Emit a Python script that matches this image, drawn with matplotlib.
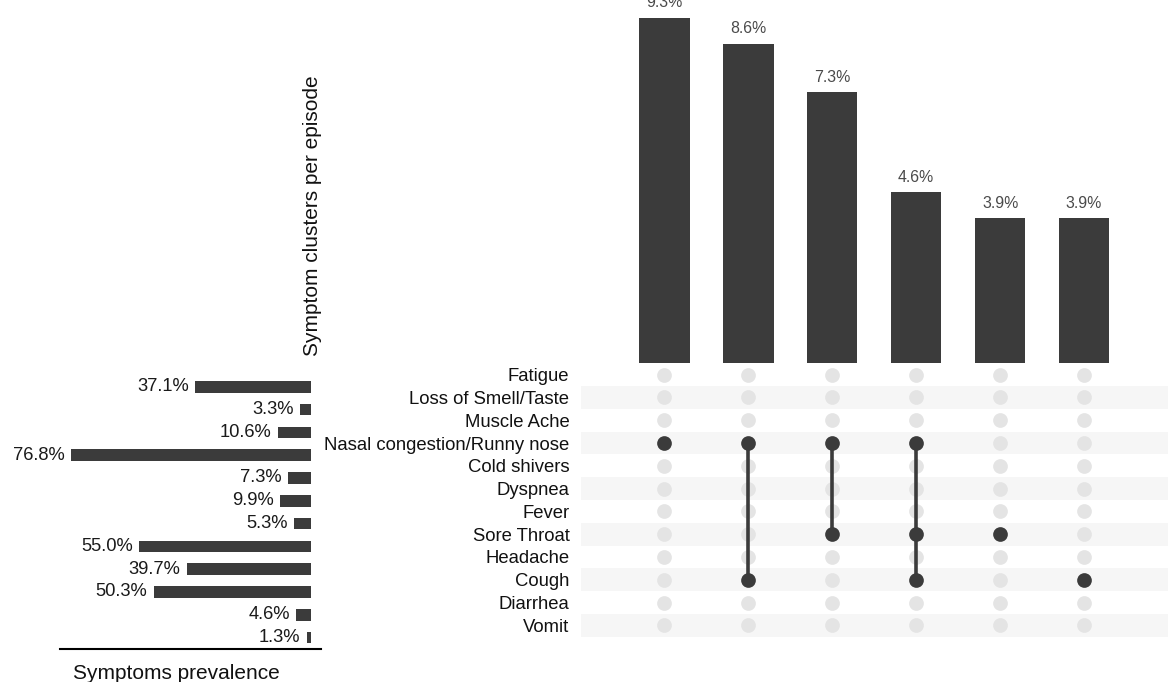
import matplotlib
matplotlib.use("Agg")
import matplotlib.pyplot as plt

plt.rcParams["font.family"] = ["Liberation Sans", "DejaVu Sans"]

BAR_COLOR = "#3b3b3b"
DOT_OFF = "#e4e4e4"
BAND_COLOR = "#f6f6f6"
LABEL_GREY = "#4a4a4a"

# symptoms, top to bottom
symptoms = [
    "Fatigue",
    "Loss of Smell/Taste",
    "Muscle Ache",
    "Nasal congestion/Runny nose",
    "Cold shivers",
    "Dyspnea",
    "Fever",
    "Sore Throat",
    "Headache",
    "Cough",
    "Diarrhea",
    "Vomit",
]
prevalence = [37.1, 3.3, 10.6, 76.8, 7.3, 9.9, 5.3, 55.0, 39.7, 50.3, 4.6, 1.3]

# symptom clusters (intersections), left to right
cluster_share = [9.3, 8.6, 7.3, 4.6, 3.9, 3.9]
cluster_members = [
    ["Nasal congestion/Runny nose"],
    ["Nasal congestion/Runny nose", "Cough"],
    ["Nasal congestion/Runny nose", "Sore Throat"],
    ["Nasal congestion/Runny nose", "Sore Throat", "Cough"],
    ["Sore Throat"],
    ["Cough"],
]

W, H = 1169, 682


def px_rect(left, top, right, bottom):
    # pixel box -> figure fraction rect
    return [left / W, (H - bottom) / H, (right - left) / W, (bottom - top) / H]


def hide_axes(ax):
    for side in ["top", "right", "left", "bottom"]:
        ax.spines[side].set_visible(False)
    ax.set_xticks([])
    ax.set_yticks([])


fig = plt.figure(figsize=(W / 100, H / 100), dpi=100)

# intersection bars
ax_bar = fig.add_axes(px_rect(580.5, 18, 1168, 363))
cols = list(range(len(cluster_share)))
ax_bar.bar(cols, cluster_share, width=0.6, color=BAR_COLOR)
for x, v in zip(cols, cluster_share):
    ax_bar.annotate(f"{v:.1f}%", (x, v), xytext=(0, 5.5), textcoords="offset points",
                    ha="center", va="bottom", fontsize=11.4, color=LABEL_GREY,
                    annotation_clip=False)
ax_bar.set_xlim(-1, len(cols))
ax_bar.set_ylim(0, max(cluster_share))
hide_axes(ax_bar)

# membership matrix
ax_mat = fig.add_axes(px_rect(580.5, 363.3, 1168, 636.7))
n_rows = len(symptoms)
for r in range(n_rows):
    if r % 2 == 1:
        ax_mat.axhspan(r - 0.5, r + 0.5, color=BAND_COLOR, lw=0, zorder=0)
for c, members in enumerate(cluster_members):
    rows_on = [symptoms.index(m) for m in members]
    rows_off = [r for r in range(n_rows) if r not in rows_on]
    ax_mat.scatter([c] * len(rows_off), rows_off, s=112, color=DOT_OFF, lw=0, zorder=1)
    if len(rows_on) > 1:
        ax_mat.plot([c, c], [min(rows_on), max(rows_on)], color=BAR_COLOR, lw=2.6, zorder=2)
    ax_mat.scatter([c] * len(rows_on), rows_on, s=112, color=BAR_COLOR, lw=0, zorder=3)
ax_mat.set_xlim(-1, len(cols))
ax_mat.set_ylim(n_rows - 0.5, -0.5)
for side in ["top", "right", "left", "bottom"]:
    ax_mat.spines[side].set_visible(False)
ax_mat.set_xticks([])
ax_mat.set_yticks(range(n_rows))
ax_mat.set_yticklabels(symptoms, fontsize=13.3, color="#111111")
ax_mat.tick_params(axis="y", length=0, pad=8)

# symptom prevalence bars
ax_prev = fig.add_axes(px_rect(60, 375.4, 320.7, 649))
ax_prev.barh(range(n_rows), prevalence, height=0.51, color=BAR_COLOR)
for r, v in enumerate(prevalence):
    ax_prev.annotate(f"{v:.1f}%", (v, r), xytext=(-4.5, 0), textcoords="offset points",
                     ha="right", va="center", fontsize=13.2, color="#1a1a1a",
                     annotation_clip=False)
ax_prev.set_xlim(80.3, -3.2)
ax_prev.set_ylim(n_rows - 0.5, -0.5)
for side in ["top", "right", "left"]:
    ax_prev.spines[side].set_visible(False)
ax_prev.spines["bottom"].set_linewidth(1.5)
ax_prev.spines["bottom"].set_color("#000000")
ax_prev.set_xticks([])
ax_prev.set_yticks([])

fig.text(176 / W, 3 / H, "Symptoms prevalence", ha="center", va="baseline",
         fontsize=15, color="#111111")
fig.text(312 / W, (H - 216) / H, "Symptom clusters per episode", rotation=90,
         ha="center", va="center", fontsize=15, color="#111111")

fig.savefig("out.png", dpi=100)
